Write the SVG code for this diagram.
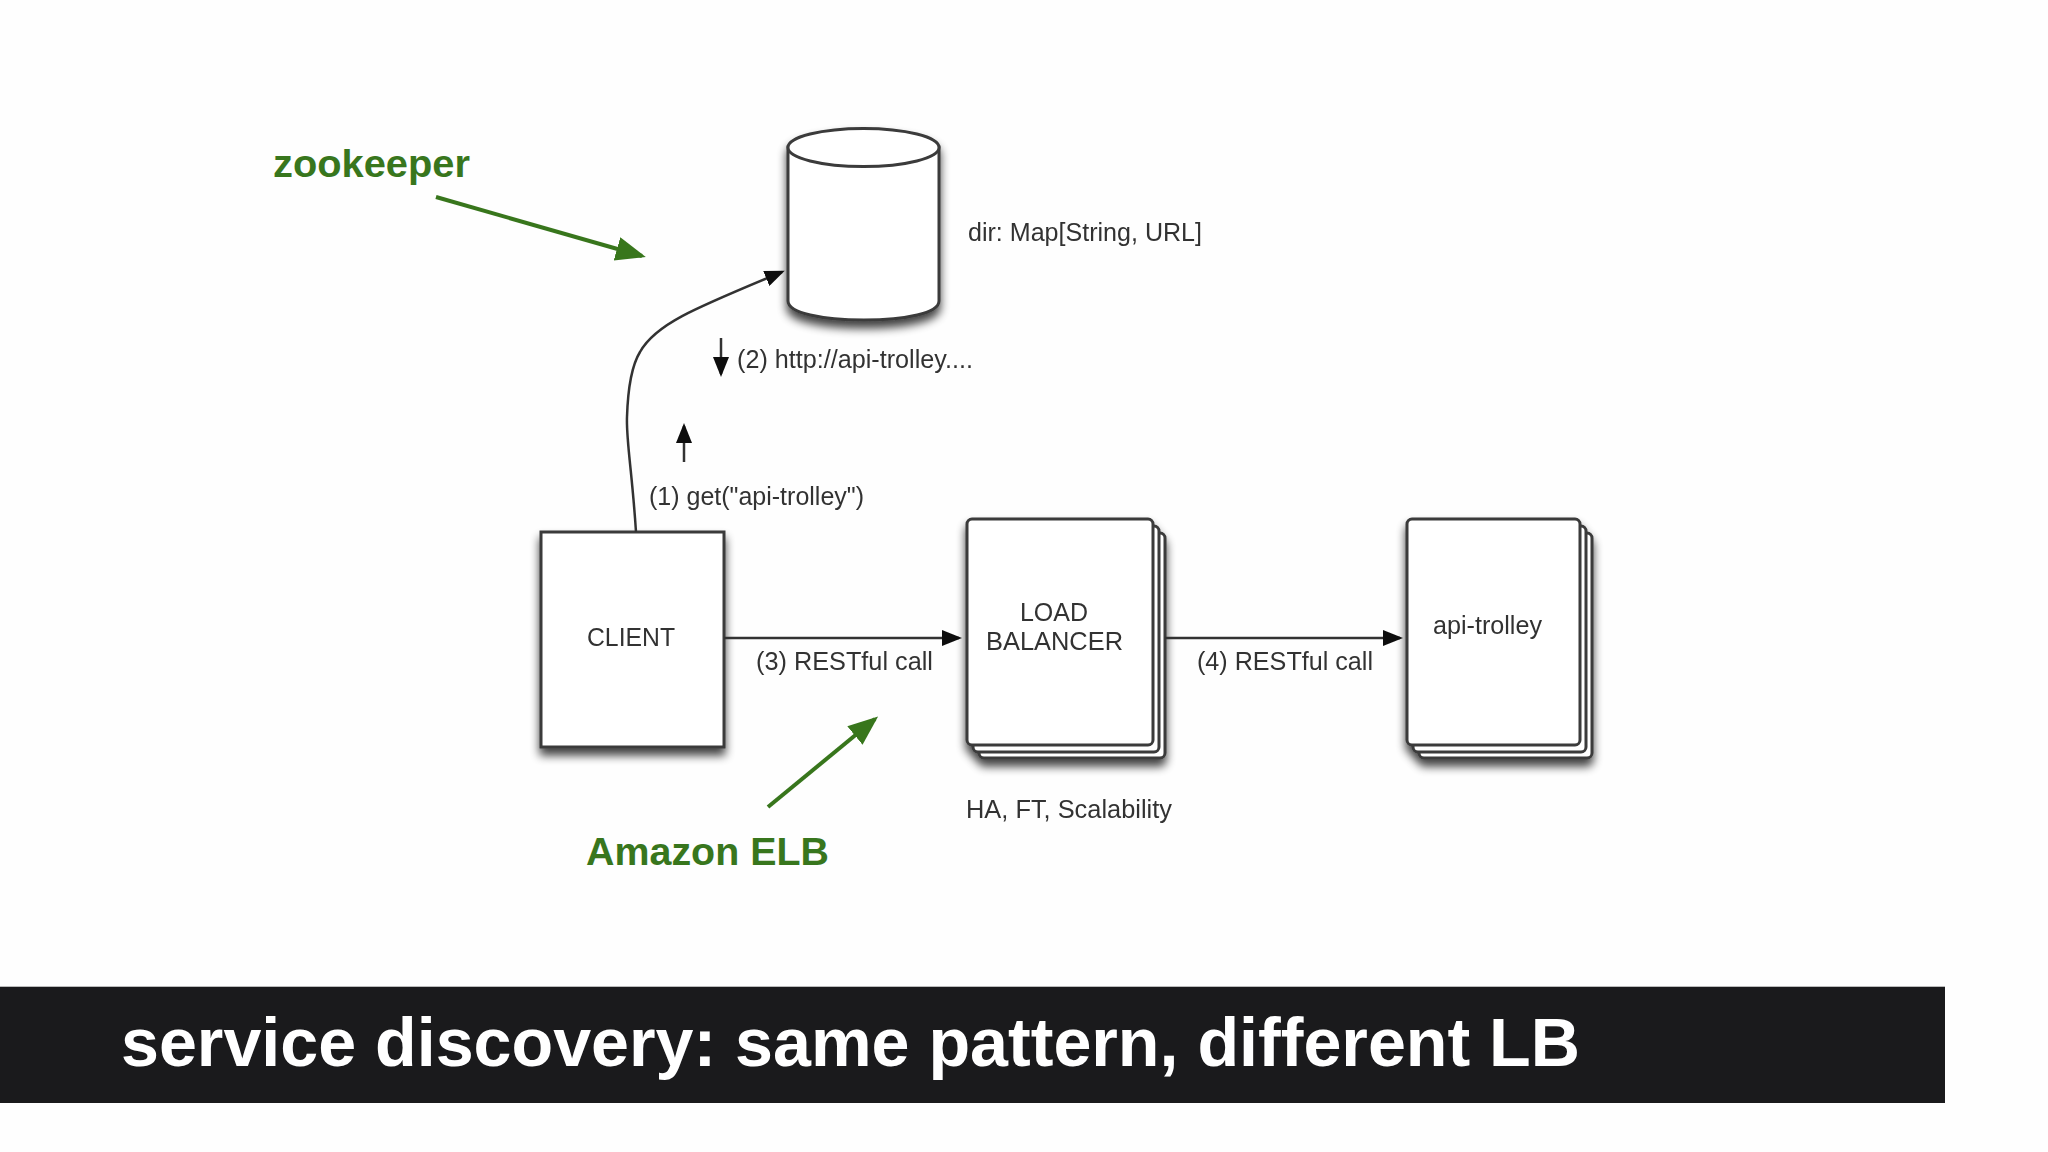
<svg xmlns="http://www.w3.org/2000/svg" width="2048" height="1152" viewBox="0 0 2048 1152">
<style>
.lbl{font-family:"Liberation Sans",Arial,sans-serif;font-size:25px;fill:#333;filter:url(#soft)}
.grn{font-family:"Liberation Sans",Arial,sans-serif;font-weight:bold;font-size:39.5px;fill:#38761d}
.box{fill:#fff;stroke:#3a3a3a;stroke-width:3}
.wire{fill:none;stroke:#333;stroke-width:2.5}
.garrow{fill:none;stroke:#38761d;stroke-width:4}
</style>
<defs>
<filter id="soft" filterUnits="userSpaceOnUse" x="0" y="0" width="2048" height="1152"><feGaussianBlur stdDeviation="0.6"/></filter>
<filter id="shadow" filterUnits="userSpaceOnUse" x="0" y="0" width="2048" height="1152">
<feGaussianBlur in="SourceAlpha" stdDeviation="5"/><feOffset dy="7"/>
<feComponentTransfer result="sh"><feFuncA type="linear" slope="0.75"/></feComponentTransfer>
<feGaussianBlur in="SourceGraphic" stdDeviation="0.7" result="src"/>
<feMerge><feMergeNode in="sh"/><feMergeNode in="src"/></feMerge>
</filter>
<marker id="blk" markerUnits="userSpaceOnUse" markerWidth="22" markerHeight="16" refX="17" refY="8" orient="auto"><path d="M0 0L20 8L0 16z" fill="#111"/></marker>
<marker id="grnhead" markerUnits="userSpaceOnUse" markerWidth="32" markerHeight="26" refX="26" refY="12" orient="auto"><path d="M0 0L30 12L0 24z" fill="#38761d"/></marker>
</defs>
<rect width="2048" height="1152" fill="#fefefe"/>

<g id="database" filter="url(#shadow)">
<path class="box" d="M788 147V301C788 313 822 320 864 320S939 313 939 301V147z"/>
<ellipse class="box" cx="863.500" cy="147.500" rx="75.500" ry="19"/>
</g>
<g id="client"><rect class="box" x="541" y="532" width="183" height="215" filter="url(#shadow)"/>
<text class="lbl" x="587" y="646" textLength="88" lengthAdjust="spacingAndGlyphs">CLIENT</text></g>
<g id="load-balancer">
<g filter="url(#shadow)">
<rect class="box" x="979" y="533" width="186" height="225" rx="5"/>
<rect class="box" x="973" y="526" width="186" height="226" rx="5"/>
<rect class="box" x="967" y="519" width="186" height="226" rx="5"/>
</g>
<text class="lbl" x="1054" y="621" text-anchor="middle">LOAD</text>
<text class="lbl" x="1054.500" y="650" text-anchor="middle" textLength="137" lengthAdjust="spacingAndGlyphs">BALANCER</text></g>
<g id="api-trolley">
<g filter="url(#shadow)">
<rect class="box" x="1419" y="533" width="173" height="225" rx="5"/>
<rect class="box" x="1413" y="526" width="173" height="226" rx="5"/>
<rect class="box" x="1407" y="519" width="173" height="226" rx="5"/>
</g>
<text class="lbl" x="1433" y="634" textLength="109" lengthAdjust="spacingAndGlyphs">api-trolley</text></g>

<g id="connectors" filter="url(#soft)">
<path class="wire" d="M636 532C632 470 626 440 627 417C628 385 632 365 640 352C655 325 690 310 782 272" marker-end="url(#blk)"/>
<path class="wire" d="M721 338V374" marker-end="url(#blk)"/>
<path class="wire" d="M684 462V426" marker-end="url(#blk)"/>
<path class="wire" d="M724 638H959" marker-end="url(#blk)"/>
<path class="wire" d="M1165 638H1400" marker-end="url(#blk)"/>
<path class="garrow" d="M436 197L642 256" marker-end="url(#grnhead)"/>
<path class="garrow" d="M768 807L875 719" marker-end="url(#grnhead)"/>
</g>

<g id="labels">
<text class="grn" x="273" y="177" textLength="197" lengthAdjust="spacingAndGlyphs">zookeeper</text>
<text class="grn" x="586" y="865" textLength="243" lengthAdjust="spacingAndGlyphs">Amazon ELB</text>
<text class="lbl" x="968" y="241" textLength="234" lengthAdjust="spacingAndGlyphs">dir: Map[String, URL]</text>
<text class="lbl" x="737" y="368" textLength="236" lengthAdjust="spacingAndGlyphs">(2) http://api-trolley....</text>
<text class="lbl" x="649" y="505" textLength="215" lengthAdjust="spacingAndGlyphs">(1) get("api-trolley")</text>
<text class="lbl" x="756" y="670" textLength="177" lengthAdjust="spacingAndGlyphs">(3) RESTful call</text>
<text class="lbl" x="1197" y="670" textLength="176" lengthAdjust="spacingAndGlyphs">(4) RESTful call</text>
<text class="lbl" x="966" y="818" textLength="206" lengthAdjust="spacingAndGlyphs">HA, FT, Scalability</text>
</g>

<g id="title-band">
<rect x="0" y="986" width="1945" height="1" fill="#bbb"/>
<rect x="0" y="987" width="1945" height="116" fill="#1a1a1c"/>
<text x="121" y="1066" font-family="'Liberation Sans',Arial,sans-serif" font-weight="bold" font-size="68" fill="#fff" textLength="1459" lengthAdjust="spacingAndGlyphs">service discovery: same pattern, different LB</text>
</g>
</svg>
